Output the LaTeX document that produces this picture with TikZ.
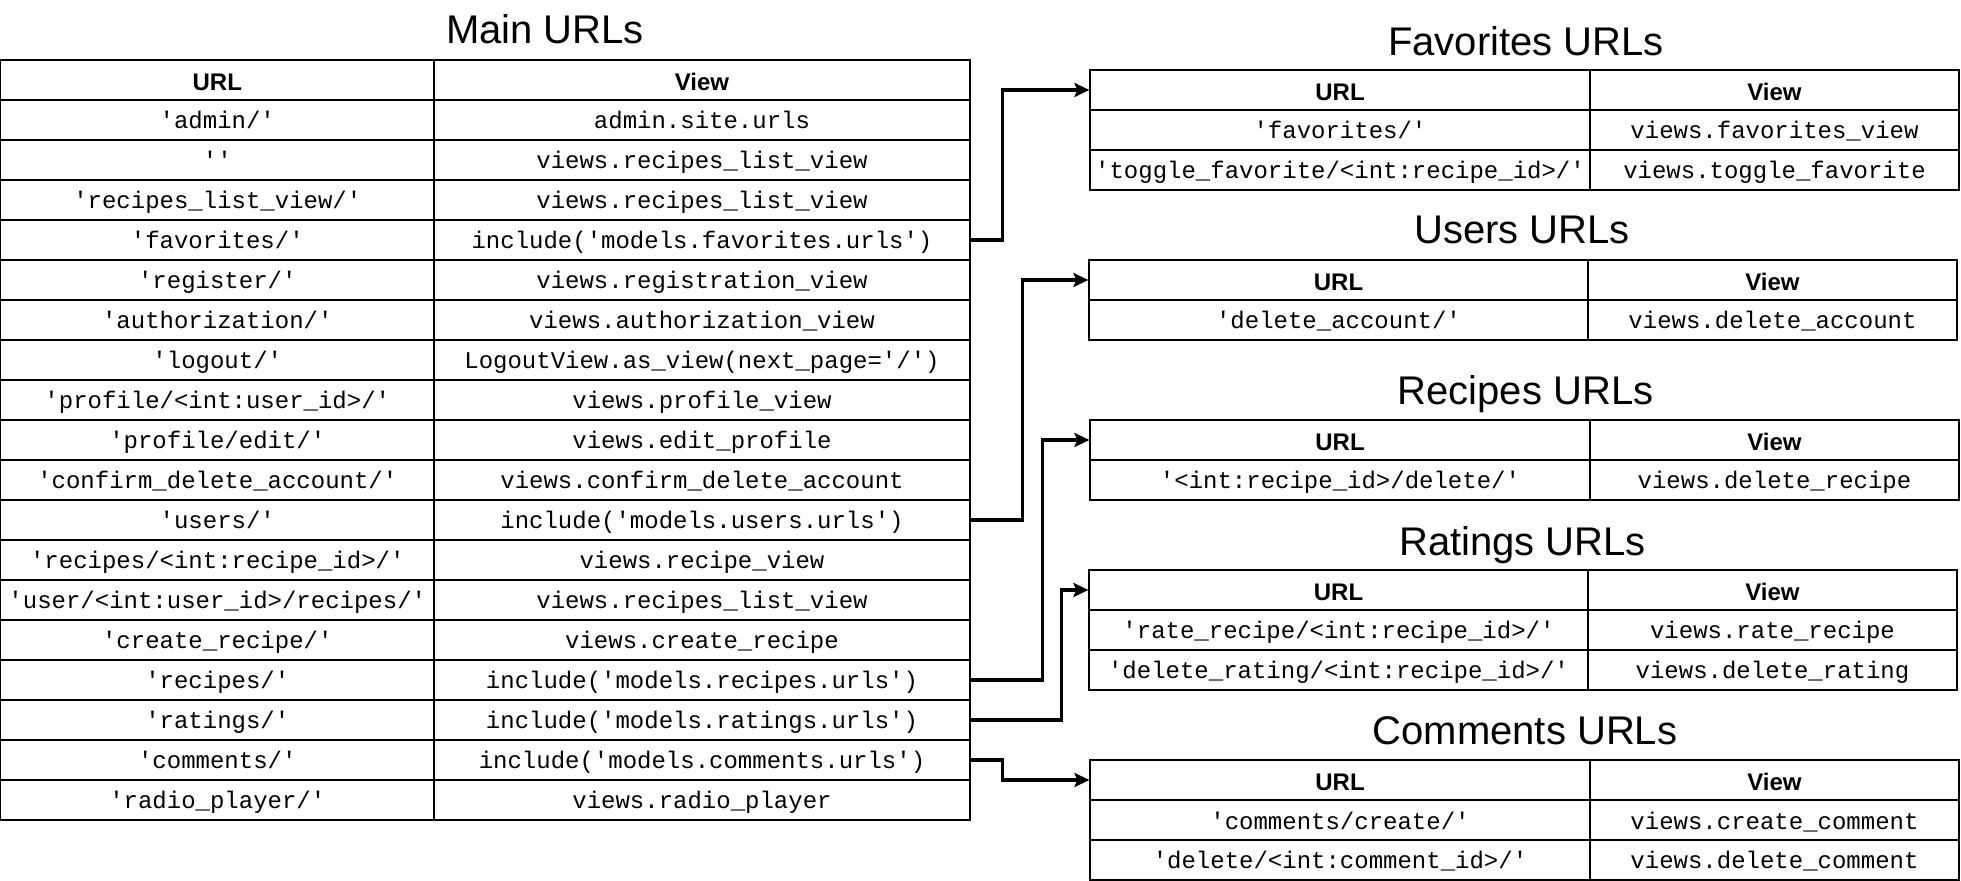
\documentclass[tikz,border=0pt]{standalone}
\usepackage{fontspec}
\setmainfont{Liberation Sans}
\setmonofont{Liberation Mono}
\usetikzlibrary{arrows.meta}

\tikzset{
  cell/.style={draw, line width=0.6pt, rectangle, inner sep=0pt,
    minimum height=20pt, text height=10pt, text depth=1pt,
    font=\ttfamily\fontsize{12}{14}\selectfont},
  headcell/.style={cell, text height=11.5pt, font=\bfseries\fontsize{12}{14}\selectfont},
  tabtitle/.style={anchor=base, inner sep=0pt, font=\fontsize{20}{24}\selectfont},
  link/.style={line width=1.75pt, -{Stealth[length=7.5pt,width=7pt,inset=1.5pt]}}
}

% one table row: #1 name prefix, #2 left x, #3 divider x, #4 right x,
% #5 top y, #6 cell style, #7 URL text, #8 view text
\newcommand{\urlrow}[8]{%
  \node[#6, minimum width={(#3-#2)*0.5pt}] (#1u) at ({(#2+#3)/2},{#5+20}) {#7};
  \node[#6, minimum width={(#4-#3)*0.5pt}] (#1v) at ({(#3+#4)/2},{#5+20}) {#8};
}

\begin{document}
\begin{tikzpicture}[x=0.5pt, y=-0.5pt]
\useasboundingbox (0,0) rectangle (1961,881);

% ---------------- Main URLs ----------------
\node[tabtitle] (tmain) at (545,44) {Main URLs};
\urlrow{m0}{0.6}{434}{970}{60}{headcell}{URL}{View}
\urlrow{m1}{0.6}{434}{970}{100}{cell}{'admin/'}{admin.site.urls}
\urlrow{m2}{0.6}{434}{970}{140}{cell}{''}{views.recipes\_list\_view}
\urlrow{m3}{0.6}{434}{970}{180}{cell}{'recipes\_list\_view/'}{views.recipes\_list\_view}
\urlrow{m4}{0.6}{434}{970}{220}{cell}{'favorites/'}{include('models.favorites.urls')}
\urlrow{m5}{0.6}{434}{970}{260}{cell}{'register/'}{views.registration\_view}
\urlrow{m6}{0.6}{434}{970}{300}{cell}{'authorization/'}{views.authorization\_view}
\urlrow{m7}{0.6}{434}{970}{340}{cell}{'logout/'}{LogoutView.as\_view(next\_page='/')}
\urlrow{m8}{0.6}{434}{970}{380}{cell}{'profile/<int:user\_id>/'}{views.profile\_view}
\urlrow{m9}{0.6}{434}{970}{420}{cell}{'profile/edit/'}{views.edit\_profile}
\urlrow{m10}{0.6}{434}{970}{460}{cell}{'confirm\_delete\_account/'}{views.confirm\_delete\_account}
\urlrow{m11}{0.6}{434}{970}{500}{cell}{'users/'}{include('models.users.urls')}
\urlrow{m12}{0.6}{434}{970}{540}{cell}{'recipes/<int:recipe\_id>/'}{views.recipe\_view}
\urlrow{m13}{0.6}{434}{970}{580}{cell}{'user/<int:user\_id>/recipes/'}{views.recipes\_list\_view}
\urlrow{m14}{0.6}{434}{970}{620}{cell}{'create\_recipe/'}{views.create\_recipe}
\urlrow{m15}{0.6}{434}{970}{660}{cell}{'recipes/'}{include('models.recipes.urls')}
\urlrow{m16}{0.6}{434}{970}{700}{cell}{'ratings/'}{include('models.ratings.urls')}
\urlrow{m17}{0.6}{434}{970}{740}{cell}{'comments/'}{include('models.comments.urls')}
\urlrow{m18}{0.6}{434}{970}{780}{cell}{'radio\_player/'}{views.radio\_player}

% ---------------- Favorites URLs ----------------
\node[tabtitle] (tfav) at (1526,55.7) {Favorites URLs};
\urlrow{f0}{1090}{1590}{1959}{70}{headcell}{URL}{View}
\urlrow{f1}{1090}{1590}{1959}{110}{cell}{'favorites/'}{views.favorites\_view}
\urlrow{f2}{1090}{1590}{1959}{150}{cell}{'toggle\_favorite/<int:recipe\_id>/'}{views.toggle\_favorite}

% ---------------- Users URLs ----------------
\node[tabtitle] (tusr) at (1522,244) {Users URLs};
\urlrow{u0}{1089}{1588}{1957}{260}{headcell}{URL}{View}
\urlrow{u1}{1089}{1588}{1957}{300}{cell}{'delete\_account/'}{views.delete\_account}

% ---------------- Recipes URLs ----------------
\node[tabtitle] (trec) at (1525.5,405) {Recipes URLs};
\urlrow{r0}{1090}{1590}{1959}{420}{headcell}{URL}{View}
\urlrow{r1}{1090}{1590}{1959}{460}{cell}{'<int:recipe\_id>/delete/'}{views.delete\_recipe}

% ---------------- Ratings URLs ----------------
\node[tabtitle] (trat) at (1522.5,555.7) {Ratings URLs};
\urlrow{a0}{1089}{1588}{1957}{570}{headcell}{URL}{View}
\urlrow{a1}{1089}{1588}{1957}{610}{cell}{'rate\_recipe/<int:recipe\_id>/'}{views.rate\_recipe}
\urlrow{a2}{1089}{1588}{1957}{650}{cell}{'delete\_rating/<int:recipe\_id>/'}{views.delete\_rating}

% ---------------- Comments URLs ----------------
\node[tabtitle] (tcom) at (1525,745) {Comments URLs};
\urlrow{c0}{1090}{1590}{1959}{760}{headcell}{URL}{View}
\urlrow{c1}{1090}{1590}{1959}{800}{cell}{'comments/create/'}{views.create\_comment}
\urlrow{c2}{1090}{1590}{1959}{840}{cell}{'delete/<int:comment\_id>/'}{views.delete\_comment}

% ---------------- include() links ----------------
\draw[link] (m4v.east)  -- ++(32,0) |- (f0u.west);
\draw[link] (m11v.east) -- ++(52,0) |- (u0u.west);
\draw[link] (m15v.east) -- ++(72,0) |- (r0u.west);
\draw[link] (m16v.east) -- ++(91,0) |- (a0u.west);
\draw[link] (m17v.east) -- ++(32,0) |- (c0u.west);
\end{tikzpicture}
\end{document}
